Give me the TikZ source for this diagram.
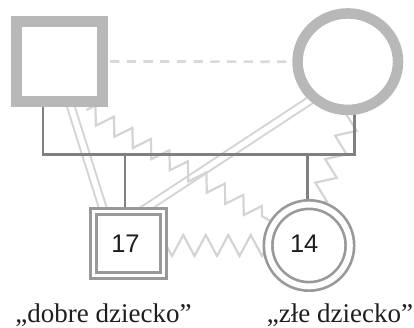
\documentclass[tikz,border=0pt]{standalone}
\usepackage{fontspec}
\newfontfamily\lsans{Liberation Sans}
\newfontfamily\lserif{Liberation Serif}
\usetikzlibrary{shapes.geometric,decorations.pathmorphing,calc,backgrounds}
\definecolor{pbord}{RGB}{184,184,184}
\definecolor{dashc}{RGB}{217,217,217}
\definecolor{relc}{RGB}{212,212,212}
\definecolor{marc}{RGB}{128,128,128}
\definecolor{kidc}{RGB}{153,153,153}
\definecolor{textc}{RGB}{30,30,30}
\begin{document}
\begin{tikzpicture}[x=1pt,y=-1pt,
  parentsq/.style={rectangle,draw=pbord,fill=white,line width=11.3pt,inner sep=0pt,outer sep=0pt,
    minimum width=85.7pt,minimum height=79.7pt},
  parentel/.style={ellipse,draw=pbord,fill=white,line width=10.5pt,inner sep=0pt,outer sep=0pt,
    minimum width=100.5pt,minimum height=96.5pt},
  kidsq/.style={rectangle,draw=kidc,fill=white,line width=2.7pt,double=white,double distance=3.3pt,
    inner sep=0pt,outer sep=0pt,minimum width=70.4pt,minimum height=64.4pt,
    font=\lsans\fontsize{25.5}{26}\selectfont,text=textc},
  kidci/.style={circle,draw=kidc,fill=white,line width=2.7pt,double=white,double distance=5.8pt,
    inner sep=0pt,outer sep=0pt,minimum size=81.8pt,
    font=\lsans\fontsize{25.5}{26}\selectfont,text=textc},
  lab/.style={anchor=base,inner sep=0pt,font=\lserif\fontsize{27}{30}\selectfont,text=textc},
  dashln/.style={draw=dashc,line width=2.7pt,dash pattern=on 9.3pt off 7.4pt,dash phase=9pt},
  relln/.style={draw=relc,line width=2pt,double=white,double distance=5.5pt},
  zz/.style={draw=relc,line width=2.2pt,line join=miter,decorate,
    decoration={zigzag,amplitude=#1}},
  marry/.style={draw=marc,line width=2.7pt}
]
\useasboundingbox (0,0) rectangle (414,328);

\node[parentsq] (father) at (59.5,61.5) {};
\node[parentel] (mother) at (347.8,61.7) {};
\node[kidsq] (son) at (128.5,243.5) {\kern-6pt 17};
\node[kidci] (daughter) at (309,245.5) {\kern-9.6pt\raisebox{3pt}{14}};

\node[lab] (lab1) at (103.5,322.5) {„dobre dziecko”};
\node[lab] (lab2) at (340,322.5) {„złe dziecko”};

\coordinate (mL) at (43,154.5);
\coordinate (mR) at (354.3,154.5);
\coordinate (sdrop) at (125,154.5);
\coordinate (ddrop) at (307.7,154.5);

\begin{scope}[on background layer]
  % relation lines
  \draw[dashln] (father.east) -- (mother.west);
  \draw[relln] ($(father.south)+(9.7,0)$) -- ($(son.north)+(-24.6,0)$);
  \draw[relln] (mother.227) -- ($(son.north)+(12.8,0)$);
  \draw[zz=8.5pt,decoration={segment length=21.6pt}]
    ($(father.south)+(26.9,8.65)$) -- ($(daughter.center)+(-38,-24)$);
  \draw[zz=9pt,decoration={segment length=25.5pt,mirror}]
    ($(mother.center)+(7.9,48.05)$) -- ($(daughter.center)+(2.2,-30)$);
  \draw[zz=10.5pt,decoration={segment length=22.5pt,mirror}]
    ($(son.center)+(37.9,2)$) -- ($(daughter.center)+(-30.1,0)$);
  % family lines
  \draw[marry] (mL |- father.south) -- (mL) -- (mR) -- (mR |- mother.south);
  \draw[marry] (sdrop) -- (sdrop |- son.north);
  \draw[marry] (ddrop) -- (ddrop |- daughter.north);
\end{scope}
\end{tikzpicture}
\end{document}
